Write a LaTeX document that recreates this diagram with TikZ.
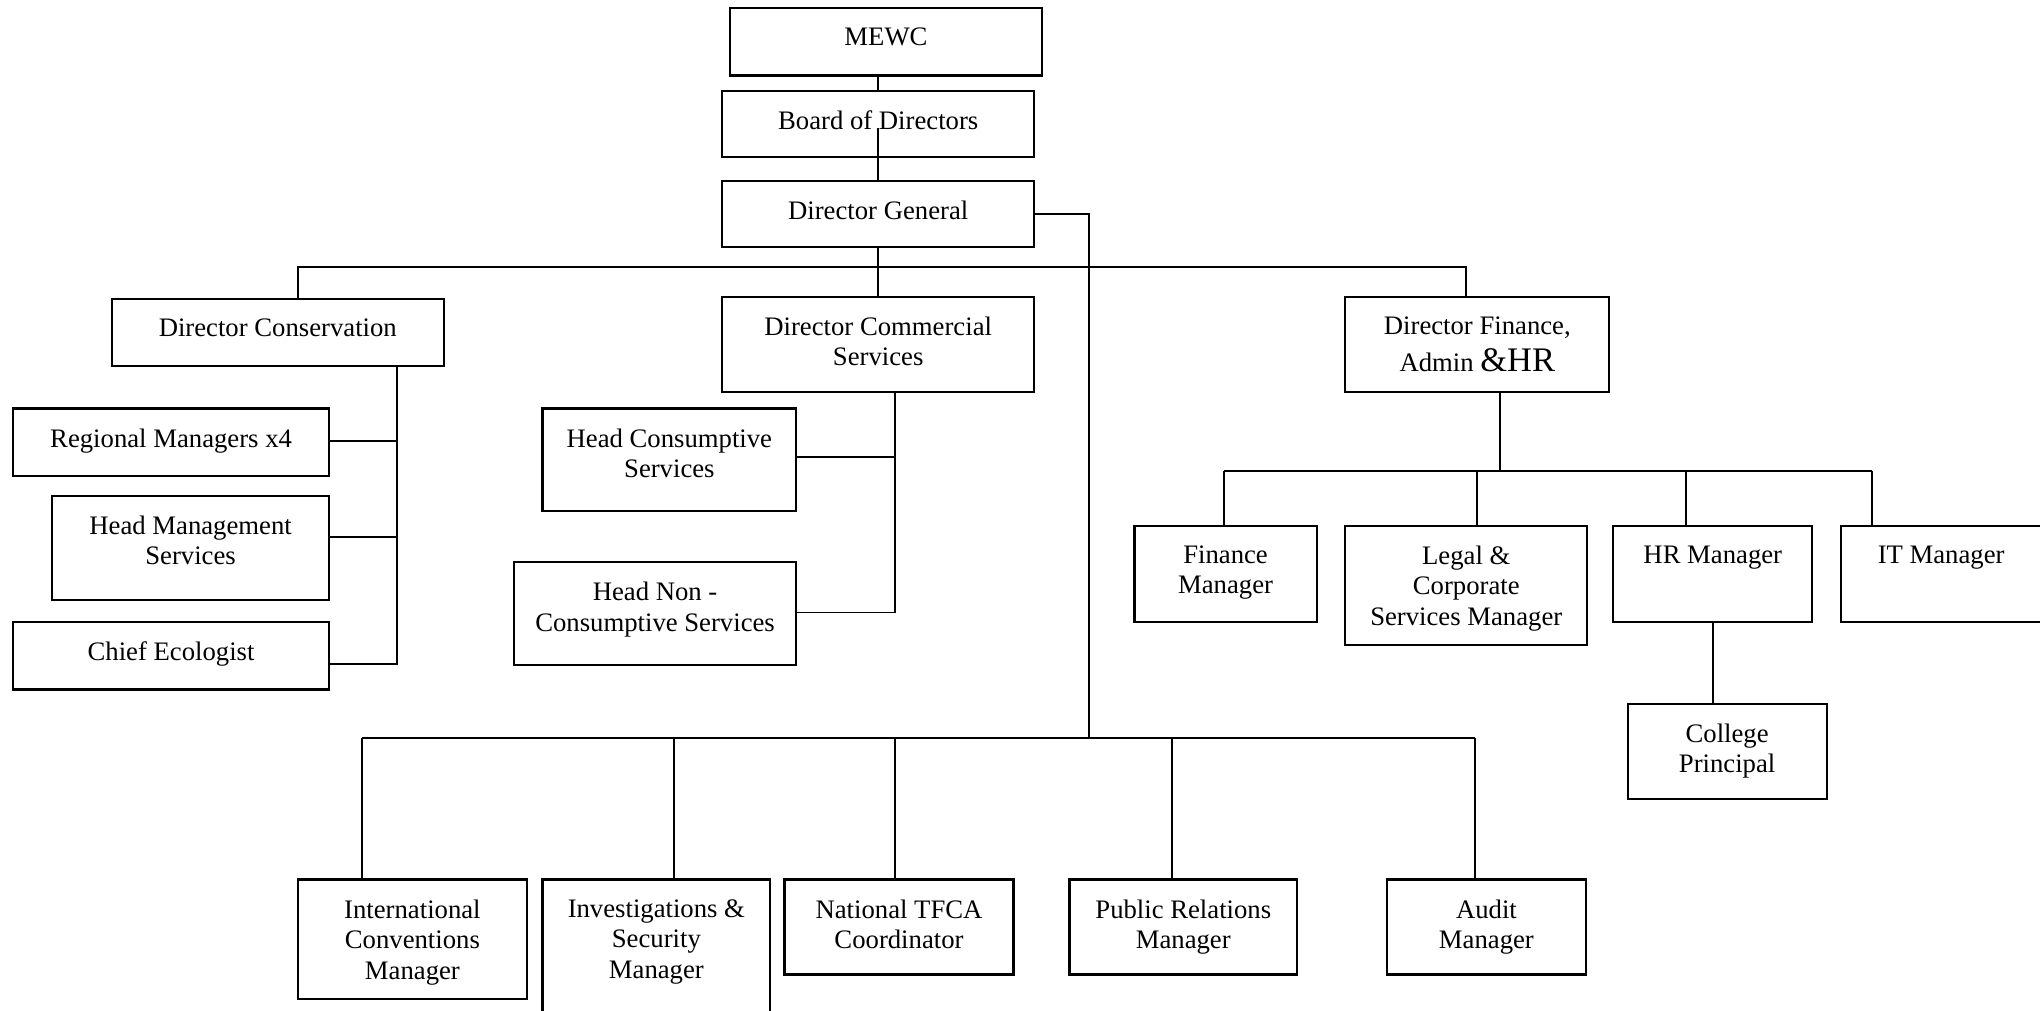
\documentclass[tikz,border=0pt]{standalone}
\usepackage{fontspec}
\setmainfont{Liberation Serif}
\usetikzlibrary{calc,fit}
\tikzset{
  box/.style={draw, line width=0.6pt, inner sep=0pt},
  txt/.style={anchor=north, inner sep=0pt, yshift=-5.8pt, align=center, font=\fontsize{7.6}{8.7}\selectfont},
  wire/.style={line width=0.5pt},
  bus/.style={line width=0.6pt}
}

\begin{document}
\begin{tikzpicture}[x=0.01301cm, y=-0.01301cm]
		%%%%% START %%%%%
		\useasboundingbox (0,0) rectangle (1568,777);
		
		% top of the chart
		\node[box, fit={(561,6) (801,58)}, label={[txt]north:MEWC}] (mewc) {};
		\node[box, fit={(555,70) (795,121)}, label={[txt]north:Board of Directors}] (board) {};
		\node[box, fit={(555,139) (795,190)}, label={[txt]north:Director General}] (dg) {};
		
		% directors
		\node[box, fit={(86,230) (341,281)}, label={[txt]north:Director Conservation}] (dcons) {};
		\node[box, fit={(555,228) (795,301)}, label={[txt]north:Director Commercial\\Services}] (dcomm) {};
		\node[box, fit={(1034,228) (1237,301)}, label={[txt]north:{Director Finance,\\[2pt]Admin {\fontsize{9.8}{9}\selectfont\&HR}}}] (dfin) {};
		
		% conservation
		\node[box, fit={(10,314) (253,366)}, label={[txt]north:Regional Managers x4}] (regmgr) {};
		\node[box, fit={(40,381) (253,461)}, label={[txt]north:Head Management\\Services}] (headmgmt) {};
		\node[box, fit={(10,478) (253,530)}, label={[txt]north:Chief Ecologist}] (chiefeco) {};
		
		% commercial services
		\node[box, fit={(417,314) (612,393)}, label={[txt]north:Head Consumptive\\Services}] (headcons) {};
		\node[box, fit={(395,432) (612,511)}, label={[txt]north:Head Non -\\Consumptive Services}] (headnon) {};
		
		% finance, admin and hr
		\node[box, fit={(872,404) (1012,478)}, label={[txt]north:Finance\\Manager}] (finmgr) {};
		\node[box, fit={(1034,404) (1220,496)}, label={[txt]north:Legal \&\\Corporate\\Services Manager}] (legal) {};
		\node[box, fit={(1240,404) (1393,478)}, label={[txt]north:HR Manager}] (hrmgr) {};
		\node[box, fit={(1415,404) (1569,478)}, label={[txt]north:IT Manager}] (itmgr) {};
		\node[box, fit={(1251,541) (1404,614)}, label={[txt]north:College\\Principal}] (college) {};
		
		% staff of the director general
		\node[box, fit={(229,676) (405,768)}, label={[txt]north:International\\Conventions\\Manager}] (intconv) {};
		\node[box, fit={(417,676) (592,800)}, label={[txt]north:Investigations \&\\Security\\Manager}] (invsec) {};
		\node[box, fit={(603,676) (779,749)}, label={[txt]north:National TFCA\\Coordinator}] (tfca) {};
		\node[box, fit={(822,676) (997,749)}, label={[txt]north:Public Relations\\Manager}] (prmgr) {};
		\node[box, fit={(1066,676) (1219,749)}, label={[txt]north:Audit\\Manager}] (audit) {};
		
		% lines
		\draw[wire] (mewc.south -| board.north) -- (board.north);
		\draw[wire] ($(board.center)+(0,3)$) -- (board.center |- dg.north);
		\draw[wire] (dg.south) -- (dcomm.north);
		
		\coordinate (busl) at (229,205);
		\coordinate (busr) at (1127,205);
		\draw[wire] (busl |- dcons.north) -- (busl) -- (busr) -- (busr |- dfin.north);
		
		\coordinate (cs1) at (305,339);
		\coordinate (cs2) at (305,413);
		\coordinate (cs3) at (305,510.5);
		\draw[wire] (dcons.south -| cs1) -- (cs3) -- (cs3 -| chiefeco.east);
		\draw[wire] (cs1) -- (cs1 -| regmgr.east);
		\draw[wire] (cs2) -- (cs2 -| headmgmt.east);
		
		\coordinate (ms1) at (688,351.5);
		\coordinate (ms2) at (688,470.7);
		\draw[wire] (dcomm.south -| ms1) -- (ms2) -- (ms2 -| headnon.east);
		\draw[wire] (ms1) -- (ms1 -| headcons.east);
		
		\coordinate (fb) at (1153,362);
		\draw[wire] (dfin.south -| fb) -- (fb);
		\foreach \n/\x in {finmgr/941, legal/1135, hrmgr/1296, itmgr/1439}
		{
			\coordinate (f\n) at (\x,362);
			\draw[wire] (f\n) -- (f\n |- \n.north);
		}
		\draw[bus] (ffinmgr) -- (fitmgr);
		\draw[wire] (hrmgr.south) -- (hrmgr.south |- college.north);
		
		\coordinate (stf) at (837,567);
		\draw[wire] (dg.east) -| (stf);
		\foreach \n/\x in {intconv/278, invsec/518, tfca/688, prmgr/901, audit/1134}
		{
			\coordinate (s\n) at (\x,567);
			\draw[wire] (s\n) -- (s\n |- \n.north);
		}
		\draw[bus] (sintconv) -- (saudit);
		
		%%%%% END %%%%%
	\end{tikzpicture}
\end{document}
